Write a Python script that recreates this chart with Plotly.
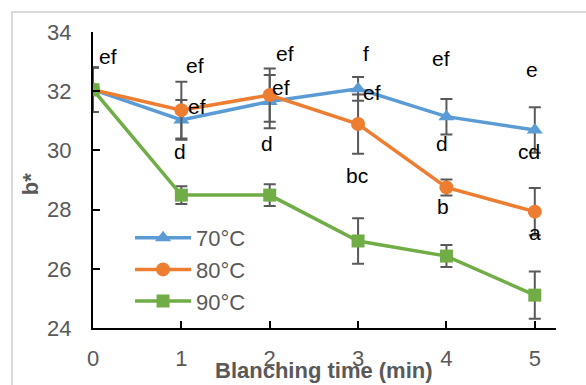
import plotly.graph_objects as go

time_min = [0, 1, 2, 3, 4, 5]
series_names = ["70°C", "80°C", "90°C"]
b70 = [32.05, 31.03, 31.65, 32.08, 31.14, 30.69]
b80 = [32.05, 31.36, 31.87, 30.89, 28.75, 27.93]
b90 = [32.05, 28.49, 28.49, 26.94, 26.43, 25.11]
err70 = [0.75, 0.67, 0.9, 0.4, 0.6, 0.77]
err80 = [0.75, 0.96, 0.9, 1.0, 0.27, 0.8]
err90 = [0.75, 0.3, 0.37, 0.77, 0.37, 0.8]

# significance letters with label positions (x, y in data units)
sig_labels = ["ef", "ef", "ef", "d", "ef", "ef", "d", "f", "ef", "bc",
              "ef", "d", "b", "e", "cd", "a"]
sig_x = [0.17, 1.15, 1.18, 0.98, 2.17, 2.13, 1.97, 3.09, 3.16, 2.99,
         3.94, 3.95, 3.96, 4.97, 4.94, 5.0]
sig_y = [33.16, 32.88, 31.5, 29.95, 33.29, 32.14, 30.25, 33.29, 31.97, 29.14,
         33.12, 30.25, 28.09, 32.72, 29.95, 27.21]

x_title = "Blanching time (min)"
y_title = "b*"

colors = ["#5B9BD5", "#ED7D31", "#70AD47"]
symbols = ["triangle-up", "circle", "square"]
sizes = [14, 14, 13]
values = [b70, b80, b90]
errors = [err70, err80, err90]

FONT = "Liberation Sans, Arial, sans-serif"
GRAY = "#595959"

fig = go.Figure()
for name, vals, errs, c, s, sz in zip(series_names, values, errors, colors, symbols, sizes):
    fig.add_trace(go.Scatter(
        x=time_min, y=vals, name=name, mode="lines+markers",
        line=dict(color=c, width=3.5),
        marker=dict(symbol=s, size=sz, color=c),
        error_y=dict(type="data", array=errs, visible=True,
                     color=GRAY, thickness=2, width=6),
    ))

for t, xx, yy in zip(sig_labels, sig_x, sig_y):
    fig.add_annotation(x=xx, y=yy, text=t, showarrow=False,
                       font=dict(family=FONT, size=21, color="#000000"))

# axis titles
fig.add_annotation(xref="paper", yref="paper", x=0.499, y=-0.145,
                   text="<b>" + x_title + "</b>", showarrow=False,
                   xanchor="center", yanchor="middle",
                   font=dict(family=FONT, size=22, color=GRAY))
fig.add_annotation(xref="paper", yref="paper", x=-0.136, y=0.486,
                   text="<b>" + y_title + "</b>", showarrow=False, textangle=-90,
                   xanchor="center", yanchor="middle",
                   font=dict(family=FONT, size=22, color=GRAY))

# outer chart frame
fig.add_shape(type="rect", xref="paper", yref="paper",
              x0=-0.175, x1=1.3, y0=-0.4, y1=1.0676,
              line=dict(color="#D9D9D9", width=2), layer="below")

fig.update_layout(
    width=586, height=385,
    margin=dict(l=93, r=30, t=32, b=57),
    paper_bgcolor="white", plot_bgcolor="white",
    font=dict(family=FONT, size=22, color=GRAY),
    showlegend=True,
    legend=dict(x=0.08, y=0.375, xanchor="left", yanchor="top",
                bgcolor="rgba(0,0,0,0)", font=dict(size=22, color=GRAY),
                tracegroupgap=0, itemwidth=56),
    xaxis=dict(range=[0, 5.24], tick0=0, dtick=1, showgrid=False, zeroline=False,
               automargin=False,
               showline=True, linecolor="black", linewidth=2,
               ticks="inside", ticklen=7, tickwidth=2, tickcolor="black",
               tickfont=dict(size=22, color=GRAY), ticklabelstandoff=10),
    yaxis=dict(range=[24, 34], tick0=24, dtick=2, showgrid=False, zeroline=False,
               automargin=False,
               showline=True, linecolor="black", linewidth=2,
               ticks="inside", ticklen=7, tickwidth=2, tickcolor="black",
               tickfont=dict(size=22, color=GRAY), ticklabelstandoff=15),
)

fig.write_html("out.html", config={"displayModeBar": False},
               post_script="document.body.style.margin='0';document.body.style.overflow='hidden';")
